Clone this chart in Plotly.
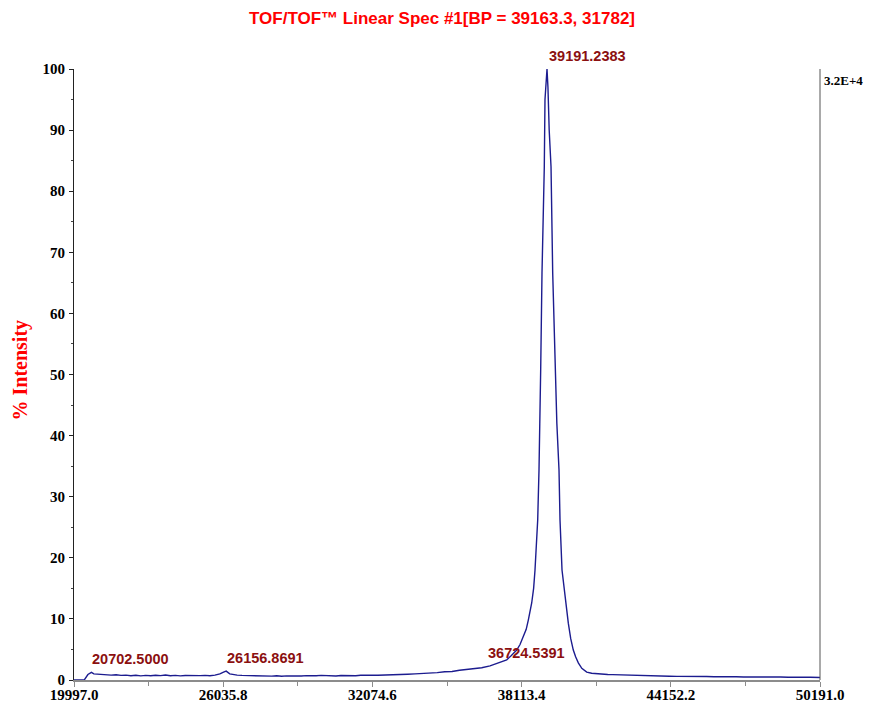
import plotly.graph_objects as go

# m/z values (Da) and % intensity
mz = [19997, 20200, 20420, 20560, 20702.5, 20800, 20950, 21100, 21300, 21500,
      21700, 21900, 22100, 22300, 22500, 22700, 22900, 23100, 23300, 23500,
      23700, 23900, 24100, 24300, 24500, 24700, 24900, 25100, 25300, 25500,
      25700, 25900, 26050, 26156.9, 26300, 26450, 26600, 26800, 27000, 27200,
      27400, 27600, 27800, 28000, 28200, 28400, 28600, 28800, 29000, 29200,
      29400, 29600, 29800, 30000, 30200, 30400, 30600, 30800, 31000, 31200,
      31400, 31600, 31800, 32000, 32300, 32600, 32900, 33200, 33500, 33800,
      34100, 34400, 34700, 35000, 35300, 35600, 35900, 36200, 36500, 36835,
      37100, 37510, 37700, 37915, 38050, 38183, 38300, 38385, 38450, 38522,
      38600, 38656, 38765, 38818, 38886, 38939, 39032, 39060, 39142, 39180,
      39230, 39304, 39372, 39465, 39540, 39627, 39668, 39749, 39830, 39911,
      40004, 40100, 40206, 40300, 40409, 40550, 40749, 40950, 41153, 41400,
      41600, 41800, 42000, 42300, 42600, 42900, 43200, 43500, 43800, 44100,
      44400, 44700, 45000, 45300, 45600, 45900, 46200, 46500, 46800, 47100,
      47400, 47700, 48000, 48300, 48600, 48900, 49200, 49500, 49800, 50191]
intensity = [0.0, 0.0, 0.05, 0.9, 1.25, 1.0, 0.95, 0.85, 0.9, 0.8,
             0.85, 0.75, 0.8, 0.7, 0.78, 0.68, 0.75, 0.7, 0.78, 0.72,
             0.82, 0.7, 0.75, 0.68, 0.74, 0.7, 0.76, 0.72, 0.75, 0.7,
             0.8, 1.0, 1.3, 1.45, 1.0, 0.85, 0.8, 0.75, 0.72, 0.68,
             0.74, 0.66, 0.7, 0.64, 0.7, 0.62, 0.68, 0.64, 0.7, 0.66,
             0.72, 0.65, 0.7, 0.75, 0.68, 0.72, 0.66, 0.74, 0.7, 0.76,
             0.7, 0.78, 0.74, 0.8, 0.78, 0.85, 0.82, 0.9, 0.95, 1.0,
             1.05, 1.15, 1.2, 1.35, 1.4, 1.6, 1.7, 1.9, 2.0, 2.3,
             2.7, 3.3, 4.0, 4.9, 5.8, 7.0, 8.3, 9.8, 11.0, 12.6,
             15.0, 18.0, 26.2, 34.4, 50.8, 66.6, 84.0, 95.0, 100.0, 97.0,
             90.0, 84.0, 66.6, 50.8, 42.0, 34.4, 26.2, 18.0, 15.0, 12.6,
             9.3, 6.8, 4.9, 3.8, 2.8, 1.9, 1.3, 1.1, 1.0, 0.95,
             0.9, 0.88, 0.85, 0.8, 0.75, 0.72, 0.7, 0.66, 0.65, 0.62,
             0.6, 0.62, 0.58, 0.55, 0.58, 0.52, 0.55, 0.5, 0.52, 0.48,
             0.5, 0.46, 0.5, 0.45, 0.48, 0.44, 0.46, 0.42, 0.45, 0.4]

x_ticks = [19997.0, 26035.8, 32074.6, 38113.4, 44152.2, 50191.0]
x_tick_labels = ["19997.0", "26035.8", "32074.6", "38113.4", "44152.2", "50191.0"]
y_ticks = [0, 10, 20, 30, 40, 50, 60, 70, 80, 90, 100]
y_tick_labels = ["0", "10", "20", "30", "40", "50", "60", "70", "80", "90", "100"]

peak_mz = [20702.5000, 26156.8691, 36724.5391, 39191.2383]
peak_int = [1.25, 1.45, 2.3, 100.0]
peak_labels = ["20702.5000", "26156.8691", "36724.5391", "39191.2383"]

title_text = "TOF/TOF\u2122 Linear Spec #1[BP = 39163.3, 31782]"

# page has an 8px body margin; figure is sized to fit the window
W, H = 867, 700
ML, MR, MT, MB = 66, 55, 61, 28
PW, PH = W - ML - MR, H - MT - MB

fig = go.Figure()
fig.add_trace(go.Scatter(x=mz, y=intensity, mode="lines",
                         line=dict(color="#1c1c8f", width=1.4),
                         hoverinfo="x+y", showlegend=False))

annotations = []
for xm, yi, lab in zip(peak_mz, peak_int, peak_labels):
    annotations.append(dict(x=xm, y=yi, xref="x", yref="y", text="<b>" + lab + "</b>",
                            showarrow=False, xanchor="left", yanchor="bottom",
                            xshift=-1, yshift=3,
                            font=dict(family="Liberation Sans, Arial", size=14.5, color="#8b1010")))
annotations.append(dict(x=(19.5 - 8 - ML) / PW, y=(680 - 370) / PH, xref="paper", yref="paper",
                        text="<b>% Intensity</b>",
                        showarrow=False, textangle=-90, xanchor="center", yanchor="middle",
                        font=dict(family="Liberation Serif, Times New Roman", size=20, color="#ff0000")))
annotations.append(dict(x=1, y=1, xref="paper", yref="paper", text="<b>3.2E+4</b>",
                        showarrow=False, xanchor="left", yanchor="top", xshift=2, yshift=-2,
                        font=dict(family="Liberation Serif, Times New Roman", size=13, color="#000000")))

fig.update_layout(
    width=W, height=H,
    margin=dict(l=ML, r=MR, t=MT, b=MB, autoexpand=False),
    paper_bgcolor="white", plot_bgcolor="white",
    title=dict(text="<b>" + title_text + "</b>", x=(442 - 8) / W, xref="container", xanchor="center",
               y=1 - 10 / H, yanchor="middle",
               font=dict(family="Liberation Sans, Arial", size=17, color="#ff0000")),
    annotations=annotations,
    xaxis=dict(range=[19997, 50191], tickvals=x_ticks,
               ticktext=["<b>" + t + "</b>" for t in x_tick_labels],
               showgrid=False, zeroline=False, showline=True, linecolor="#8c8c8c", linewidth=2,
               ticks="outside", ticklen=5, tickcolor="#8c8c8c", tickwidth=1,
               minor=dict(ticks="outside", ticklen=4, tickcolor="#8c8c8c", dtick=3019.4, tick0=19997.0),
               tickfont=dict(family="Liberation Serif, Times New Roman", size=15, color="black"),
               ticklabelstandoff=-5, automargin=False, fixedrange=True),
    yaxis=dict(range=[0, 100], tickvals=y_ticks,
               ticktext=["<b>" + t + "</b>" for t in y_tick_labels],
               showgrid=False, zeroline=False, showline=True, linecolor="#222222", linewidth=1,
               ticks="outside", ticklen=4, tickcolor="#222222",
               minor=dict(ticks="outside", ticklen=2, tickcolor="#444444", dtick=5, tick0=0),
               tickfont=dict(family="Liberation Serif, Times New Roman", size=15, color="black"),
               ticklabelstandoff=1, automargin=False, fixedrange=True),
    shapes=[dict(type="line", xref="paper", yref="paper", x0=1, x1=1, y0=0, y1=1,
                 line=dict(color="#555555", width=1))],
)

fig.write_html("out.html")
